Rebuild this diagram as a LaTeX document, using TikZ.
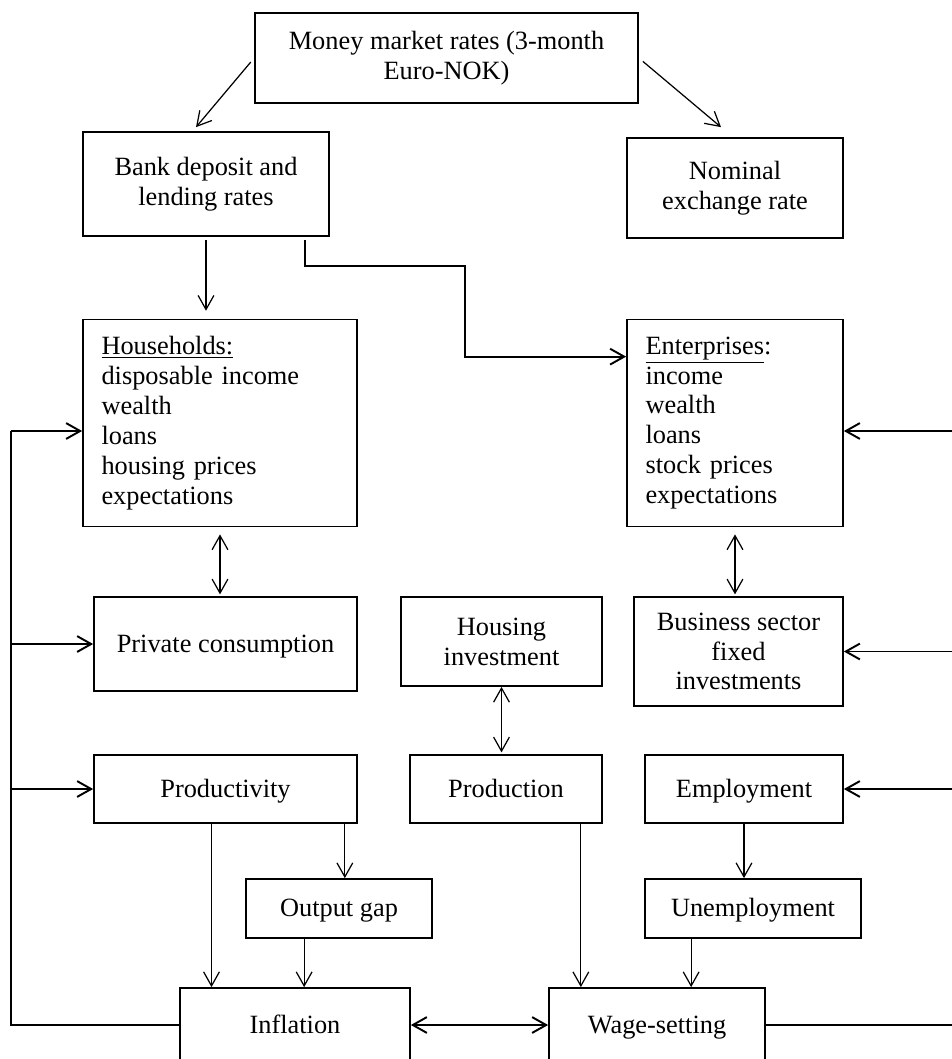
\documentclass[tikz,border=0pt]{standalone}
\usepackage{fontspec}
\setmainfont{Liberation Serif}
\usetikzlibrary{positioning, arrows.meta, calc}

\tikzset{
  box/.style={draw, line width=1pt, align=center, inner sep=0pt},
  einzeln/.style={box, text height=1.05em, text depth=0.1em},
  liste/.style={box, align=left, minimum height=4.14cm, inner xsep=0.37cm},
  arr/.style={-{Straight Barb[length=8pt,width=9pt]}, line width=0.7pt},
  darr/.style={{Straight Barb[length=8pt,width=9pt]}-{Straight Barb[length=8pt,width=9pt]}, line width=0.7pt},
  fb/.style={line width=1.1pt},
}

\begin{document}
\begin{tikzpicture}[x=0.02cm, y=-0.02cm, font=\fontsize{15}{17}\selectfont]

    \useasboundingbox (0,0) rectangle (952,1059);
    \clip (0,0) rectangle (952,1059);

    % Zinsen oben
    \node[box, minimum width=7.66cm, minimum height=1.8cm] (money) at (446.5,58)
        {Money market rates (3-month\\Euro-NOK)};
    \node[box, minimum width=4.92cm, minimum height=2.08cm] (bank) at (206,184)
        {Bank deposit and\\lending rates};
    \node[box, minimum width=4.32cm, minimum height=2cm] (nominal) at (735,188)
        {Nominal\\exchange rate};

    % Haushalte und Unternehmen
    \node[liste, text width=4.74cm] (house) at (220,423)
        {\underline{Households:}\\disposable income\\wealth\\loans\\housing prices\\expectations};
    \node[liste, text width=3.58cm] (firm) at (735,423)
        {\underline{Enterprises}:\\income\\wealth\\loans\\stock prices\\expectations};

    % Nachfrage
    \node[einzeln, minimum width=5.26cm, minimum height=1.88cm] (cons) at (225.5,644) {Private consumption};
    \node[box, minimum width=4.02cm, minimum height=1.78cm] (hinv) at (501.5,641.5) {Housing\\investment};
    \node[box, minimum width=4.18cm, minimum height=2.18cm] (bfix) at (738.5,651.5)
        {Business sector\\fixed\\investments};

    % Angebot
    \node[einzeln, minimum width=5.26cm, minimum height=1.36cm] (prod) at (225.5,789) {Productivity};
    \node[einzeln, minimum width=3.84cm, minimum height=1.36cm] (output) at (506,789) {Production};
    \node[einzeln, minimum width=3.96cm, minimum height=1.36cm] (empl) at (744,789) {Employment};
    \node[einzeln, minimum width=3.72cm, minimum height=1.18cm] (gap) at (339,908.5) {Output gap};
    \node[einzeln, minimum width=4.32cm, minimum height=1.18cm] (unemp) at (753,908.5) {Unemployment};

    % Preise und Löhne
    \node[einzeln, minimum width=4.6cm, minimum height=1.48cm] (infl) at (295,1025) {Inflation};
    \node[einzeln, minimum width=4.32cm, minimum height=1.48cm] (wage) at (657,1025) {Wage-setting};

    % Pfeile vom Geldmarkt
    \draw[arr, shorten <=3pt] (money.west) -- ($(bank.north)+(-10,-4)$);
    \draw[arr, shorten <=3pt] (money.east) -- ($(nominal.north)+(-14,-10)$);

    % Bankzinsen zu Haushalten und Unternehmen
    \draw[arr, shorten <=2pt, shorten >=4.5pt] (bank.south) -- (bank.south |- house.north);
    \coordinate (bk) at ($(bank.south east)+(-25,3)$);
    \coordinate (fk) at ($(firm.north west)+(0,38)$);
    \draw[arr, fb] (bk) -- ++(0,26) -| ($(fk)+(-161,0)$) -- (fk);

    % Wechselwirkungen
    \draw[darr, shorten <=4pt, shorten >=1pt] (house.south) -- (house.south |- cons.north);
    \draw[darr, shorten <=4pt, shorten >=1pt] (firm.south) -- (firm.south |- bfix.north);
    \draw[darr, shorten >=1pt] (hinv.south) -- (hinv.south |- output.north);

    % Pfeile nach unten
    \coordinate (p1) at ($(prod.south)+(-14,0)$);
    \draw[arr] (p1) -- (p1 |- infl.north);
    \coordinate (p2) at ($(prod.south east)+(-13,0)$);
    \draw[arr] (p2) -- (p2 |- gap.north);
    \coordinate (p3) at ($(gap.south west)+(59,0)$);
    \draw[arr] (p3) -- (p3 |- infl.north);
    \coordinate (p4) at ($(output.south east)+(-22,0)$);
    \draw[arr] (p4) -- (p4 |- wage.north);
    \draw[arr] (empl.south) -- (empl.south |- unemp.north);
    \coordinate (p5) at ($(unemp.south west)+(47,0)$);
    \draw[arr] (p5) -- (p5 |- wage.north);
    \draw[darr, fb] (infl.east) -- (wage.west);

    % Rückkopplung links (Inflation)
    \coordinate (fbL) at (11,431);
    \draw[fb] (infl.west) -| (fbL);
    \draw[arr, fb] (fbL) -- (fbL -| house.west);
    \draw[arr, fb] (fbL |- cons.west) -- (cons.west);
    \draw[arr, fb] (fbL |- prod.west) -- (prod.west);

    % Rückkopplung rechts (Lohnbildung)
    \coordinate (fbR) at (965,431);
    \draw[fb] (wage.east) -| (fbR);
    \draw[arr, fb] (fbR) -- (fbR -| firm.east);
    \draw[arr, fb] (fbR |- bfix.east) -- (bfix.east);
    \draw[arr, fb] (fbR |- empl.east) -- (empl.east);

\end{tikzpicture}
\end{document}
